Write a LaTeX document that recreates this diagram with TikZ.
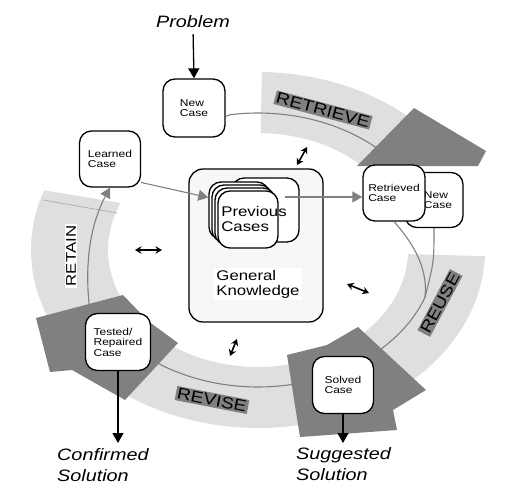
\documentclass[tikz,border=0pt]{standalone}
\usepackage{fontspec}
\setmainfont{Liberation Sans}[FakeStretch=1.2]
\usetikzlibrary{arrows.meta}

\begin{document}
\begin{tikzpicture}[x=1pt, y=-1pt,
  >={Triangle[length=10pt, width=11pt]},
  band/.style={fill=gray!25},
  head/.style={fill=gray},
  procline/.style={draw=black!50, line width=1.1pt},
  casebox/.style={draw, line width=1.3pt, fill=white, rounded corners=12pt, align=left,
    inner sep=1pt, font=\fontsize{10}{10.5}\selectfont},
  stackbox/.style={draw, line width=1.3pt, fill=white, rounded corners=12pt,
    minimum width=60pt, minimum height=57pt},
  phase/.style={fill=gray, inner sep=1.5pt, font=\fontsize{16}{16}\selectfont},
  outtext/.style={align=left, inner sep=1pt, font=\fontsize{16.5}{21}\selectfont\itshape},
  twoway/.style={{Stealth[length=6.5pt,width=7.5pt]}-{Stealth[length=6.5pt,width=7.5pt]}, line width=1.6pt}]
  \useasboundingbox (0,0) rectangle (506,498);

  % ring: retrieve, reuse, revise, retain
  \fill[band] plot[domain=-89:-46, samples=40] ({258+227*cos(\x)},{250+178*sin(\x)})
    -- plot[domain=-46:-89, samples=40] ({258+150*cos(\x)},{250+117*sin(\x)}) -- cycle;
  \fill[band] plot[domain=2:56, samples=40] ({258+227*cos(\x)},{250+178*sin(\x)})
    -- plot[domain=56:2, samples=40] ({258+150*cos(\x)},{250+117*sin(\x)}) -- cycle;
  \fill[band] plot[domain=55:130, samples=50] ({258+227*cos(\x)},{250+178*sin(\x)})
    -- plot[domain=130:55, samples=50] ({258+150*cos(\x)},{250+117*sin(\x)}) -- cycle;
  \fill[band] plot[domain=128:199.6, samples=50] ({258+227*cos(\x)},{250+178*sin(\x)})
    -- plot[domain=203.7:128, samples=50] ({258+150*cos(\x)},{250+117*sin(\x)}) -- cycle;
  \draw[black!30, line width=0.8pt] (43,200) -- (117,213);

  % case boxes
  \node[casebox, minimum width=62pt, minimum height=58pt] (newcase) at (194,108) {New\\Case};
  \node[casebox, minimum width=61pt, minimum height=56pt] (learned) at (110,159) {Learned\\Case};
  \node[casebox, minimum width=58pt, minimum height=55pt] (newcase2) at (434,200) {\hspace*{8pt}New\\\hspace*{8pt}Case};

  % process lines
  \coordinate (reusejoin) at (425,297);
  \coordinate (retainfoot) at (90,312);
  \draw[procline] (newcase.-15) -- plot[domain=-99:-45, samples=40] ({258+178*cos(\x)},{250+137*sin(\x)});
  \draw[procline] plot[domain=20:60, samples=30] ({258+178*cos(\x)},{250+137*sin(\x)});
  \draw[procline] plot[domain=60:130, samples=40] ({258+178*cos(\x)},{250+137*sin(\x)});
  \draw[procline] (newcase2.south) .. controls (434,262) .. (reusejoin);

  % big arrow heads
  \fill[head] (357,166) -- (414,108) -- (486,151) -- (478,166) -- cycle;
  \fill[head] (358,327) -- (426,390) -- (393,410) -- (397,430) -- (300,437) -- (287,355) -- (327,345) -- cycle;
  \fill[head] (36,318) -- (123,295) -- (148,321) -- (178,343) -- (125,400) -- (72,370) -- (50,372) -- cycle;

  \node[casebox, minimum width=62pt, minimum height=56pt] (retrieved) at (394,193) {Retrieved\\Case};
  \draw[procline] (retrieved.south) .. controls (415,245) and (428,270) .. (reusejoin);
  \node[casebox, minimum width=61pt, minimum height=57pt] (solved) at (343,385) {Solved\\Case};
  \node[casebox, minimum width=65pt, minimum height=57pt] (tested) at (118,342) {Tested/\\Repaired\\Case};
  \draw[procline, ->] (retainfoot) .. controls (84,265) and (90,225) .. (learned.south);

  % phase names
  \node[phase, rotate=-15] (retrieve) at (323,110) {RETRIEVE};
  \node[phase, rotate=62] (reuse) at (440,303) {REUSE};
  \node[phase, rotate=-11] (revise) at (212,400) {REVISE};
  \node[phase, fill=white, rotate=90, font=\fontsize{14}{14}\selectfont] (retain) at (71,256) {RETAIN};

  % knowledge base
  \node[draw, line width=1.3pt, fill=gray!6, rounded corners=14pt,
    minimum width=134pt, minimum height=153pt] (gk) at (256,245.5) {};
  \node[stackbox, minimum width=67pt, minimum height=64pt] (pcback) at (265.5,210) {};
  \foreach \i/\d in {1/0,2/3,3/6,4/9}
    \node[stackbox] (pc\i) at (239+\d,210.5+\d) {};
  \node[align=left, font=\fontsize{14}{15}\selectfont] (prevtxt) at (254,219) {Previous\\Cases};
  \node[fill=white, align=left, inner sep=2pt, font=\fontsize{14}{15}\selectfont] (gktxt) at (258,284) {General\\Knowledge};
  \coordinate (pcout) at (285,197);
  \draw[procline, ->] (learned.-37) -- (pc1.157);
  \draw[procline, ->] (pcout) -- (retrieved.west |- pcout);

  % inputs and outputs
  \node[outtext] (problem) at (193,22) {Problem};
  \node[outtext, anchor=north west] (confirmed) at (56,447) {Confirmed\\Solution};
  \node[outtext, anchor=north west] (suggested) at (295,446) {Suggested\\Solution};
  \draw[->, line width=1.3pt, shorten <=5pt] (problem.south) -- (newcase.north);
  \draw[->, line width=1.3pt, shorten >=4pt] (tested.south) -- (tested.south |- confirmed.north);
  \draw[->, line width=1.3pt, shorten >=3pt] (solved.south) -- (solved.south |- suggested.north);

  % two-way links to the knowledge base
  \draw[twoway] (135,250) -- (162,250);
  \draw[twoway] (297,165) -- (307,147);
  \draw[twoway] (347,284) -- (369,293);
  \draw[twoway] (230,356) -- (237,339);
\end{tikzpicture}
\end{document}
